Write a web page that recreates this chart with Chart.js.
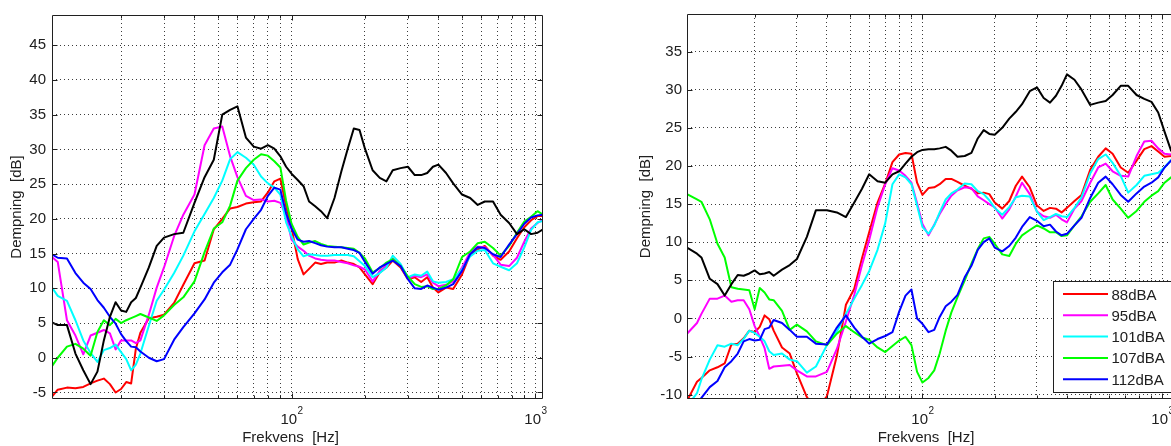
<!DOCTYPE html>
<html>
<head>
<meta charset="utf-8">
<script src="https://cdn.jsdelivr.net/npm/chart.js@4.4.0/dist/chart.umd.min.js"></script>
<style>
  html, body { margin: 0; padding: 0; background: #ffffff; overflow: hidden; width: 1171px; height: 446px; }
  canvas { position: absolute; top: 0; display: block; }
  #leftPanel { left: 0; }
  #rightPanel { left: 600px; }
</style>
</head>
<body>
<canvas id="leftPanel" width="580" height="446"></canvas>
<canvas id="rightPanel" width="600" height="446"></canvas>
<script>
// ---------- data ----------
const seriesLabels = ['88dBA', '95dBA', '101dBA', '107dBA', '112dBA'];
const gridFreqs = [20, 30, 40, 50, 60, 70, 80, 90, 100, 200, 300, 400, 500, 600, 700, 800, 900, 1000];

// left panel
const leftFreq = [10.42, 11, 12, 13, 14, 15, 16, 17, 18, 19,
  20, 21, 22, 23, 24, 26, 28, 30, 33, 36,
  40, 44, 48, 52, 56, 60, 65, 70, 75, 80,
  85, 90, 95, 100, 106, 112, 118, 125, 132, 140,
  150, 160, 170, 180, 190, 200, 215, 230, 245, 260,
  280, 300, 320, 340, 360, 380, 400, 430, 460, 500,
  540, 580, 620, 670, 720, 780, 840, 900, 960, 1020,
  1074];
const leftRef = [5.1, 4.7, 4.7, 0.6, -1.8, -3.8, -2.0, 2.5, 5.9, 8.0,
  6.8, 6.6, 8.0, 8.6, 10.1, 13.0, 16.1, 17.3, 17.8, 18.0,
  22.3, 26.0, 28.5, 35.0, 35.7, 36.2, 31.7, 30.4, 30.1, 30.6,
  30.1, 29.0, 27.5, 26.5, 25.6, 24.7, 22.5, 21.8, 21.1, 20.1,
  23.0, 26.8, 30.1, 33.0, 32.8, 30.1, 27.0, 25.9, 25.4, 27.0,
  27.3, 27.5, 26.3, 26.3, 26.6, 27.5, 27.8, 26.6, 25.1, 23.5,
  23.0, 22.0, 22.5, 22.5, 20.6, 19.4, 17.8, 18.5, 17.8, 18.0,
  18.5];
const left88 = [-5.6, -4.6, -4.3, -4.4, -4.2, -3.7, -3.3, -3.0, -3.8, -5.0,
  -4.5, -3.5, -3.7, 1.3, 3.6, 5.7, 5.9, 6.2, 7.9, 10.5,
  13.6, 14.0, 18.5, 20.0, 21.5, 21.7, 22.2, 22.4, 22.5, 23.8,
  25.4, 25.8, 21.8, 18.7, 14.2, 12.0, 12.8, 13.7, 13.5, 13.7,
  13.7, 14.0, 13.7, 13.5, 13.0, 12.0, 10.6, 12.3, 13.0, 14.0,
  13.0, 11.3, 11.6, 10.9, 11.6, 10.1, 9.4, 10.1, 9.9, 12.0,
  14.9, 15.6, 16.1, 14.7, 14.1, 15.3, 17.2, 18.8, 19.8, 20.4,
  20.4];
const left95 = [14.5, 13.8, 5.4, 3.2, 0.5, 3.2, 3.6, 4.0, 3.5, 1.2,
  2.5, 2.5, 2.5, 2.1, 2.5, 6.2, 10.1, 13.0, 17.5, 20.6,
  23.5, 30.6, 33.0, 33.3, 29.0, 26.0, 23.3, 22.7, 22.8, 22.5,
  22.6, 22.3, 20.5, 17.0, 16.0, 15.4, 14.7, 14.3, 14.1, 14.0,
  14.0, 13.8, 13.6, 13.3, 13.1, 12.7, 11.0, 12.5, 13.3, 14.3,
  13.3, 11.4, 11.8, 11.6, 12.0, 10.8, 10.3, 10.5, 11.0, 13.0,
  15.2, 16.0, 15.9, 14.8, 13.4, 13.2, 14.4, 16.7, 18.6, 19.4,
  19.9];
const left101 = [10.1, 8.9, 8.2, 5.4, 2.5, 0.7, -0.6, 1.1, 1.4, 1.9,
  0.8, -0.2, -1.8, -1.0, 0.6, 4.6, 8.2, 9.8, 12.2, 14.7,
  18.2, 20.7, 23.0, 25.5, 28.6, 29.6, 28.8, 27.8, 26.1, 25.1,
  24.5, 23.5, 19.5, 17.5, 15.6, 14.6, 14.9, 14.8, 14.7, 14.7,
  14.8, 14.8, 14.8, 14.6, 13.9, 13.2, 11.6, 12.2, 13.0, 14.7,
  13.5, 11.6, 12.0, 11.8, 12.4, 11.0, 10.8, 10.9, 11.3, 12.7,
  14.6, 15.4, 15.5, 13.6, 13.1, 12.6, 13.6, 15.9, 18.4, 19.5,
  19.7];
const left107 = [-1.2, 0.0, 1.6, 2.0, 1.3, 0.3, 3.7, 5.4, 4.7, 5.6,
  5.0, 5.4, 5.7, 6.0, 6.3, 5.8, 5.3, 6.1, 7.6, 8.7,
  11.0, 15.2, 18.6, 19.5, 21.9, 25.5, 27.3, 28.5, 29.3, 29.1,
  28.3, 27.4, 22.6, 19.3, 17.4, 16.3, 16.6, 16.8, 16.4, 16.1,
  16.0, 15.9, 15.8, 15.7, 15.1, 14.3, 12.3, 12.9, 13.7, 14.2,
  13.2, 11.7, 10.6, 10.2, 10.3, 9.9, 9.9, 10.4, 11.3, 14.5,
  15.3, 16.5, 16.7, 15.8, 14.7, 16.1, 18.0, 19.6, 20.3, 21.1,
  20.6];
const left112 = [14.9, 14.4, 14.3, 12.2, 10.8, 9.9, 8.3, 7.2, 5.9, 4.9,
  3.4, 2.4, 1.6, 1.5, 0.9, 0.0, -0.5, -0.2, 2.6, 4.4,
  6.4, 8.4, 10.8, 12.3, 13.4, 15.6, 18.5, 20.0, 21.3, 23.3,
  24.5, 24.2, 20.8, 18.6, 17.0, 16.7, 16.8, 16.5, 16.2, 16.0,
  15.9, 15.9, 15.7, 15.5, 15.1, 13.8, 12.1, 13.0, 13.5, 14.0,
  13.2, 11.3, 10.0, 9.9, 10.4, 10.1, 9.8, 10.1, 10.6, 12.5,
  14.9, 15.9, 15.8, 14.9, 14.5, 16.3, 17.8, 19.3, 20.2, 20.5,
  20.6];

// right panel
const rightFreq = [10.45, 11.5, 12, 13, 14, 15, 16, 17, 18, 19,
  20, 21, 22, 23, 24, 26, 28, 30, 33, 36,
  40, 44, 48, 52, 56, 60, 65, 70, 75, 80,
  85, 90, 95, 100, 106, 112, 118, 125, 132, 140,
  150, 160, 170, 180, 190, 200, 215, 230, 245, 260,
  280, 300, 320, 340, 360, 380, 400, 430, 460, 500,
  540, 580, 620, 670, 720, 780, 840, 900, 960, 1020,
  1086];
const rightRef = [9.3, 8.5, 8.0, 5.2, 4.5, 3.0, 4.5, 5.7, 5.6, 5.9,
  6.3, 5.8, 5.9, 6.1, 5.6, 6.4, 7.0, 7.8, 10.7, 14.2,
  14.2, 13.9, 13.3, 15.2, 17.0, 18.9, 18.0, 17.8, 18.9, 19.3,
  20.3, 21.2, 21.8, 22.1, 22.2, 22.2, 22.3, 22.5, 22.0, 21.2,
  21.3, 21.7, 23.6, 24.7, 24.2, 24.1, 25.0, 26.2, 27.1, 28.1,
  29.8, 30.3, 28.9, 28.3, 29.2, 30.5, 32.0, 31.3, 30.0, 28.0,
  28.3, 28.5, 29.3, 30.5, 30.5, 29.3, 28.8, 28.4, 27.0, 24.5,
  22.0];
const right88 = [-10.8, -8.3, -7.8, -6.8, -6.4, -5.9, -3.4, -3.3, -2.6, -1.6,
  -1.8, -1.1, 0.4, -0.1, -1.6, -3.8, -4.6, -7.2, -10.3, -12.0,
  -10.2, -4.9, 1.8, 3.9, 7.9, 11.3, 15.2, 17.7, 20.5, 21.5,
  21.7, 21.6, 17.8, 16.2, 17.1, 17.2, 17.6, 18.3, 18.3, 17.9,
  17.4, 17.0, 16.4, 16.5, 16.3, 15.2, 14.4, 15.4, 17.4, 18.6,
  17.2, 14.8, 14.1, 14.5, 14.4, 13.9, 14.5, 15.4, 16.2, 19.5,
  21.2, 22.3, 21.6, 19.8, 19.1, 20.7, 22.2, 22.6, 21.9, 21.2,
  21.3];
const right95 = [-2.0, -0.6, 0.6, 2.6, 2.6, 3.0, 2.2, 2.4, 2.4, 1.2,
  -1.0, -2.4, -3.9, -6.6, -6.3, -6.2, -6.1, -6.8, -7.6, -7.6,
  -7.0, -4.0, -0.4, 3.1, 7.0, 10.3, 14.6, 17.6, 19.7, 19.4,
  18.7, 17.8, 15.1, 12.4, 10.9, 12.3, 13.7, 15.0, 16.1, 16.8,
  17.2, 17.1, 16.0, 15.5, 15.0, 14.6, 13.1, 14.3, 16.0, 17.8,
  16.3, 14.0, 13.4, 13.2, 13.6, 13.0, 12.6, 14.4, 15.4, 17.8,
  19.8, 20.3, 19.3, 18.7, 18.6, 21.3, 23.2, 23.3, 22.3, 21.6,
  21.5];
const right101 = [-11.5, -9.8, -8.0, -5.4, -3.5, -3.7, -3.3, -3.5, -2.7, -1.6,
  -1.9, -2.4, -3.0, -4.3, -4.8, -4.6, -5.4, -5.6, -7.1, -6.3,
  -3.5, -1.7, 0.6, 2.6, 4.4, 6.2, 9.0, 12.5, 17.6, 18.9,
  18.5, 17.6, 14.8, 12.0, 11.1, 12.2, 13.9, 15.6, 16.4, 16.9,
  17.7, 17.6, 16.7, 16.3, 15.5, 14.5, 13.6, 14.6, 15.9, 16.1,
  16.0, 14.0, 12.9, 13.3, 13.7, 13.4, 13.3, 14.5, 15.9, 19.0,
  20.9, 21.5, 20.4, 18.7, 16.5, 17.5, 18.7, 18.9, 19.1, 19.8,
  20.8];
const right107 = [16.3, 15.6, 15.3, 13.0, 9.8, 8.0, 4.1, 3.9, 3.8, 3.7,
  1.2, 4.0, 3.4, 2.5, 2.4, 1.0, -1.5, -0.8, -1.7, -3.0,
  -3.5, -2.0, -1.0, -1.8, -2.5, -2.8, -3.8, -4.4, -3.6, -2.9,
  -2.4, -3.5, -7.0, -8.4, -7.8, -6.8, -4.6, -1.6, 0.8, 2.8,
  5.0, 7.2, 9.1, 10.5, 10.7, 9.8, 8.4, 8.2, 9.8, 10.9,
  11.6, 12.2, 11.8, 11.3, 11.3, 10.8, 10.9, 12.2, 13.4, 15.3,
  16.4, 17.5, 15.6, 14.4, 13.2, 14.1, 15.3, 16.1, 16.7, 17.8,
  18.5];
const right112 = [-12.5, -11.5, -10.4, -9.0, -8.2, -6.4, -5.6, -4.6, -3.0, -2.7,
  -2.9, -2.8, -1.4, -1.2, -0.2, -0.6, -1.5, -2.4, -2.4, -3.3,
  -3.4, -1.2, 0.4, -1.2, -2.4, -3.3, -2.7, -2.3, -1.8, 0.9,
  3.0, 3.8, 0.0, -0.7, -1.8, -1.5, 0.2, 1.6, 2.2, 3.1,
  5.4, 6.9, 9.0, 10.0, 10.5, 9.3, 8.8, 9.5, 10.6, 12.0,
  13.3, 12.8, 12.1, 12.3, 11.4, 10.9, 11.1, 12.2, 13.2, 15.8,
  17.8, 18.6, 17.6, 16.2, 15.3, 16.4, 17.3, 17.8, 18.5, 19.8,
  20.7];

// ---------- styling ----------
const FONT = '"Liberation Sans", Arial, Helvetica, sans-serif';
const INK = '#202020';
const GRID = '#3c3c3c';
const seriesColors = ['#ff0000', '#ff00ff', '#00ffff', '#00ff00', '#0000ff'];
const refColor = '#000000';

function pairs(freq, vals) {
  return freq.map((f, i) => ({ x: f, y: vals[i] }));
}

function buildDatasets(freq, series, ref) {
  const sets = series.map((vals, k) => ({
    label: seriesLabels[k],
    data: pairs(freq, vals),
    borderColor: seriesColors[k],
    order: series.length - k,
    inLegend: true,
    clip: 0
  }));
  sets.push({ label: 'ref', data: pairs(freq, ref), borderColor: refColor, order: 0, inLegend: false, clip: 0 });
  return sets;
}

// box, inward ticks, decade labels, axis titles and legend
const panelDecor = {
  id: 'panelDecor',
  afterDatasetsDraw(chart, args, o) {
    const { ctx, chartArea: a, scales: { x, y } } = chart;
    const L = Math.round(a.left) + 0.5, R = Math.round(a.right) - 0.5;
    const T = Math.round(a.top) + 0.5, B = Math.round(a.bottom) - 0.5;
    ctx.save();
    ctx.strokeStyle = INK;
    ctx.lineWidth = 1;
    ctx.beginPath();
    ctx.rect(L, T, R - L, B - T);
    y.ticks.forEach(t => {
      const py = Math.round(y.getPixelForValue(t.value)) + 0.5;
      ctx.moveTo(L, py); ctx.lineTo(L + 5, py);
      ctx.moveTo(R, py); ctx.lineTo(R - 5, py);
    });
    x.ticks.forEach(t => {
      const px = Math.round(x.getPixelForValue(t.value)) + 0.5;
      const len = Number.isInteger(Math.log10(t.value)) ? 5 : 3;
      ctx.moveTo(px, B); ctx.lineTo(px, B - len);
      ctx.moveTo(px, T); ctx.lineTo(px, T + len);
    });
    ctx.stroke();
    ctx.restore();
  },
  afterDraw(chart, args, o) {
    const { ctx, chartArea: a, scales: { x } } = chart;
    ctx.save();
    ctx.fillStyle = INK;
    // decade labels 10^n
    [1, 2, 3, 4].forEach(n => {
      const v = Math.pow(10, n);
      if (v < x.min || v > x.max) return;
      const px = x.getPixelForValue(v);
      ctx.font = '15px ' + FONT;
      const wb = ctx.measureText('10').width;
      ctx.font = '10px ' + FONT;
      const we = ctx.measureText(String(n)).width;
      const x0 = px - (wb + we) / 2;
      ctx.textAlign = 'left';
      ctx.textBaseline = 'alphabetic';
      ctx.font = '15px ' + FONT;
      ctx.fillText('10', x0, a.bottom + 24.5);
      ctx.font = '10px ' + FONT;
      ctx.fillText(String(n), x0 + wb + 0.5, a.bottom + 14.5);
    });
    // x title
    ctx.font = '15px ' + FONT;
    ctx.textAlign = 'center';
    ctx.textBaseline = 'alphabetic';
    ctx.fillText(o.xTitle, (a.left + a.right) / 2 - 7, 442);
    // y title
    ctx.save();
    ctx.translate(o.yTitleX, (a.top + a.bottom) / 2);
    ctx.rotate(-Math.PI / 2);
    ctx.textBaseline = 'middle';
    ctx.fillText(o.yTitle, 0, 0);
    ctx.restore();
    // legend
    if (o.legend) {
      const g = o.legend;
      ctx.fillStyle = '#ffffff';
      ctx.fillRect(g.left, g.top, g.right - g.left, g.bottom - g.top);
      ctx.strokeStyle = INK;
      ctx.lineWidth = 1;
      ctx.strokeRect(g.left + 0.5, g.top + 0.5, g.right - g.left, g.bottom - g.top);
      const items = chart.data.datasets.filter(d => d.inLegend);
      items.forEach((d, i) => {
        const cy = g.top + 13 + i * 21.3;
        ctx.strokeStyle = d.borderColor;
        ctx.lineWidth = 2;
        ctx.beginPath();
        ctx.moveTo(g.left + 10, cy);
        ctx.lineTo(g.left + 55, cy);
        ctx.stroke();
        ctx.fillStyle = INK;
        ctx.font = '15px ' + FONT;
        ctx.textAlign = 'left';
        ctx.textBaseline = 'alphabetic';
        ctx.fillText(d.label, g.left + 58.5, cy + 5.5);
      });
    }
    ctx.restore();
  }
};

function makePanel(id, p) {
  return new Chart(document.getElementById(id), {
    type: 'line',
    data: { datasets: buildDatasets(p.freq, p.series, p.ref) },
    options: {
      responsive: false,
      animation: false,
      devicePixelRatio: 1,
      layout: { padding: { top: 12, right: p.padRight, bottom: 0, left: 0 } },
      elements: {
        point: { radius: 0, hoverRadius: 0 },
        line: { borderWidth: 2, tension: 0, borderJoinStyle: 'round', borderCapStyle: 'round', fill: false }
      },
      plugins: {
        legend: { display: false },
        tooltip: { enabled: false },
        panelDecor: { xTitle: 'Frekvens  [Hz]', yTitle: 'Dempning  [dB]', yTitleX: p.yTitleX, legend: p.legend }
      },
      scales: {
        x: {
          type: 'logarithmic',
          min: p.xMin,
          max: p.xMax,
          afterBuildTicks(s) {
            s.ticks = gridFreqs.filter(v => v > p.xMin && v < p.xMax).map(v => ({ value: v }));
          },
          ticks: { display: false },
          grid: { color: GRID, lineWidth: 1, drawTicks: false },
          border: { display: false, dash: [1, 3] },
          afterFit(s) { s.height = 47; }
        },
        y: {
          type: 'linear',
          min: p.yMin,
          max: p.yMax,
          ticks: { stepSize: 5, includeBounds: false, padding: p.tickPad, color: INK, font: { family: FONT, size: 15 } },
          grid: { color: GRID, lineWidth: 1, drawTicks: false },
          border: { display: false, dash: [1, 3] },
          afterFit(s) { s.width = p.yAxisWidth; }
        }
      }
    },
    plugins: [panelDecor]
  });
}

makePanel('leftPanel', {
  freq: leftFreq,
  series: [left88, left95, left101, left107, left112],
  ref: leftRef,
  xMin: 10.42, xMax: 1074,
  yMin: -5.94, yMax: 49.35,
  yAxisWidth: 52, padRight: 37, tickPad: 6,
  yTitleX: 16.5,
  legend: null
});

makePanel('rightPanel', {
  freq: rightFreq,
  series: [right88, right95, right101, right107, right112],
  ref: rightRef,
  xMin: 10.45, xMax: 1172,
  yMin: -10.56, yMax: 39.92,
  yAxisWidth: 87, padRight: 21, tickPad: 5,
  yTitleX: 45.8,
  legend: { left: 453, top: 281, right: 572, bottom: 392 }
});
</script>
</body>
</html>
